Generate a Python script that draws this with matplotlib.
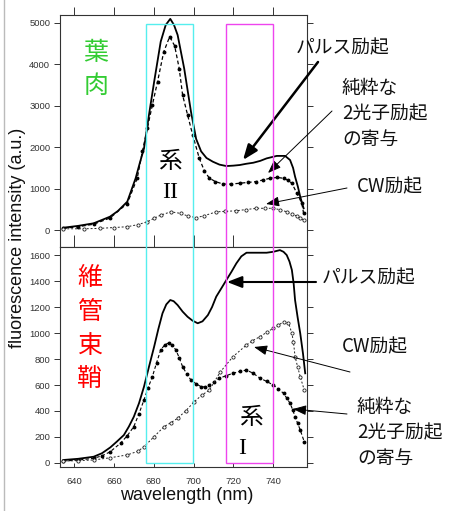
import matplotlib
matplotlib.use("Agg")
import matplotlib.pyplot as plt
from matplotlib.patches import Rectangle, FancyArrowPatch
import matplotlib.transforms as mtransforms

# ---------------- data ----------------
top_pulse_wl = [634.6, 642, 649.8, 658, 662, 666.7, 670.9, 673, 675.1, 677.6, 680.2, 683.5, 686,
                688.3, 690.2, 692, 695.3, 698.7, 701.3, 703.8, 706.5, 709.7, 713, 716.5, 720,
                723.2, 726.5, 730, 733.5, 736.7, 741.8, 746, 748.5, 750, 751, 752.4, 753.6, 755.3]
top_pulse = [56, 100, 162, 322, 460, 684, 1250, 1620, 1970, 2780, 3580, 4550, 4950,
             5100, 4950, 4710, 3900, 2860, 2200, 1900, 1740, 1650, 1580, 1545, 1555,
             1570, 1600, 1625, 1670, 1730, 1790, 1790, 1690, 1500, 1290, 1050, 805, 525]

top_two_wl = [634.6, 642, 649.8, 658, 666.7, 671.7, 674.3, 676.8, 679.3, 681.9, 685, 688, 690.5,
              692.8, 694.5, 697, 699.6, 702.9, 705.5, 708, 711, 714.8, 719, 723.2, 727.4, 731.6,
              735, 738.4, 742, 745.2, 747.5, 749.4, 751.9, 754.4, 755.3]
top_two = [40, 80, 140, 290, 640, 1250, 1900, 2460, 3020, 3580, 4300, 4670, 4450,
           3900, 3260, 2780, 2290, 1730, 1420, 1250, 1170, 1110, 1110, 1130, 1150, 1170,
           1210, 1250, 1270, 1250, 1200, 1130, 890, 645, 400]

top_cw_wl = [634.6, 645, 653, 660, 666.7, 672, 676.8, 680, 683.5, 688.6, 693.7, 697, 701.3, 705,
             711.4, 716, 721.5, 726.5, 731.6, 736, 740, 743.5, 746.8, 749.4, 751.9, 753.5, 755.3]
top_cw = [30, 30, 40, 60, 80, 130, 200, 280, 360, 440, 400, 340, 300, 340,
          440, 450, 465, 495, 525, 525, 525, 490, 440, 380, 340, 290, 240]

low_pulse_wl = [634.6, 642, 649.8, 654, 658.2, 661.5, 665, 667.5, 670, 672.6, 675.1, 677.6, 680.2,
                682.3, 684.4, 686.3, 688.3, 690, 692, 694.5, 697, 699.5, 702.1, 704.5, 707.2,
                709.3, 711.4, 714, 716.5, 719, 721.5, 724, 726.6, 731.6, 736.7, 740, 743.4,
                745.2, 746.8, 748.2, 749.4, 750.3, 751, 752.3, 753.6, 755, 756.1]
low_pulse = [23, 32, 48, 75, 120, 165, 215, 280, 356, 460, 587, 740, 895,
             1030, 1152, 1220, 1254, 1245, 1215, 1165, 1125, 1095, 1075, 1090, 1138,
             1200, 1280, 1345, 1408, 1470, 1536, 1590, 1618, 1618, 1618, 1625, 1638,
             1625, 1600, 1550, 1485, 1380, 1254, 1120, 998, 840, 690]

low_two_wl = [634.6, 642, 649.8, 654, 658, 663.3, 666.7, 670, 672.6, 675.1, 677.2, 679.3, 681.4,
              683.5, 685.6, 687.7, 689.4, 691.1, 692.8, 694.5, 696.6, 698.7, 701.2, 703.8, 705.8,
              708, 710.5, 713, 716.4, 719.8, 723.2, 726.6, 730, 733.4, 736.7, 740, 742.6, 745.2,
              746.8, 748.5, 749.8, 751, 752.3, 753.6, 755.6]
low_two = [15, 22, 36, 55, 85, 152, 210, 280, 380, 485, 580, 664, 770,
           870, 910, 925, 905, 870, 810, 741, 685, 638, 610, 587, 585,
           600, 625, 652, 672, 690, 705, 715, 690, 652, 628, 600, 570, 536,
           500, 459, 410, 356, 305, 254, 164]

low_cw_wl = [634.6, 642, 649.8, 658, 666.7, 672, 675.1, 680, 685.2, 688.6, 692, 696, 700.4, 704,
             708, 713.4, 719.8, 726.6, 729.5, 733.4, 736.7, 740, 742.6, 745.2, 747.7, 749.4,
             750.2, 751, 752.3, 753.6, 755.6]
low_cw = [15, 18, 23, 40, 62, 90, 125, 200, 280, 310, 344, 400, 472, 520,
          562, 700, 818, 908, 940, 972, 1005, 1036, 1060, 1087, 1079, 998,
          930, 818, 740, 664, 562]

x_ticks = [640, 660, 680, 700, 720, 740]
top_yticks = [0, 1000, 2000, 3000, 4000, 5000]
low_yticks = [0, 200, 400, 600, 800, 1000, 1200, 1400, 1600]
box_ii = (676, 699.6)
box_i = (716.5, 739.7)

# ---------------- figure ----------------
W, H = 452, 511
fig = plt.figure(figsize=(W / 100, H / 100), dpi=100)
JP = ['Noto Sans CJK JP', 'DejaVu Sans']

def fx(px):
    return px / W

def fy(py):
    return 1 - py / H

ax1 = fig.add_axes([fx(60), fy(247), fx(307) - fx(60), fy(15) - fy(247)])
ax2 = fig.add_axes([fx(60), fy(467), fx(307) - fx(60), fy(247) - fy(467)])

for ax in (ax1, ax2):
    ax.set_xlim(632.9, 757)
    ax.set_xticks(x_ticks)
    for s in ax.spines.values():
        s.set_linewidth(0.8)
        s.set_color('#333333')
    ax.tick_params(axis='y', which='both', direction='out', length=4, width=0.7,
                   labelsize=6.8, colors='#333333', pad=3, right=True)
    ax.tick_params(axis='y', which='both', labelright=False)

ax1.set_ylim(-410, 5193)
ax1.set_yticks(top_yticks)
ax2.set_ylim(-31, 1662)
ax2.set_yticks(low_yticks)

for lab in ax1.get_yticklabels() + ax2.get_yticklabels() + ax2.get_xticklabels():
    lab.set_family('Liberation Sans')

ax1.tick_params(axis='x', direction='in', length=9, width=0.7, labelbottom=False, colors='#333333')
sec = ax1.secondary_xaxis('top')
sec.set_xticks(x_ticks)
sec.tick_params(axis='x', direction='out', length=6, width=0.7, labeltop=False, colors='#333333')
sec.spines['top'].set_visible(False)

ax2.tick_params(axis='x', direction='in', length=3, width=0.7, labelsize=6.8,
                colors='#333333', pad=7)

# curves
ax1.plot(top_pulse_wl, top_pulse, '-', color='black', lw=1.3)
ax1.plot(top_two_wl, top_two, '--', color='black', lw=0.9, marker='o', ms=1.8, dashes=(3, 2))
ax1.plot(top_cw_wl, top_cw, '--', color='#222222', lw=0.7, marker='o', ms=2.3,
         mfc='white', mec='#222222', mew=0.6, dashes=(2, 2))

ax2.plot(low_pulse_wl, low_pulse, '-', color='black', lw=1.3)
ax2.plot(low_two_wl, low_two, '--', color='black', lw=0.8, marker='o', ms=1.8, dashes=(3, 2))
ax2.plot(low_cw_wl, low_cw, '--', color='#222222', lw=0.7, marker='o', ms=2.3,
         mfc='white', mec='#222222', mew=0.6, dashes=(2, 2))

# boxes spanning both panels
trans = mtransforms.blended_transform_factory(ax2.transData, fig.transFigure)
for (x0, x1), col in ((box_ii, '#55eeee'), (box_i, '#ee44ee')):
    r = Rectangle((x0, fy(463)), x1 - x0, fy(24) - fy(463), transform=trans,
                  fill=False, ec=col, lw=1.0, clip_on=False, zorder=5)
    fig.add_artist(r)

# axis labels
fig.text(fx(18), fy(238), 'fluorescence intensity (a.u.)', rotation=90, ha='center', va='center',
         fontsize=13, family='Liberation Sans', color='#111111')
fig.text(fx(187), fy(495), 'wavelength (nm)', ha='center', va='center',
         fontsize=13, family='Liberation Sans', color='#111111')

# left border line of the image
fig.add_artist(plt.Line2D([fx(4), fx(4)], [0, 1], transform=fig.transFigure, color='#bbbbbb', lw=1))

# region labels
for ch, y in zip('葉肉', (53, 86)):
    fig.text(fx(96), fy(y), ch, ha='center', va='center', fontsize=18, family=JP, color='#33cc33')
for ch, y in zip('維管束鞘', (278, 312, 346, 379)):
    fig.text(fx(90), fy(y), ch, ha='center', va='center', fontsize=18, family=JP, color='#ff0000')

fig.text(fx(170), fy(162), '系', ha='center', va='center', fontsize=17, family=JP, color='black')
fig.text(fx(170), fy(192), 'II', ha='center', va='center', fontsize=17, family='Liberation Serif', color='black')
fig.text(fx(251), fy(418), '系', ha='center', va='center', fontsize=17, family=JP, color='black')
fig.text(fx(242), fy(448), 'I', ha='center', va='center', fontsize=17, family='Liberation Serif', color='black')

# annotations
def note(text, xy_text):
    fig.text(fx(xy_text[0]), fy(xy_text[1]), text, ha='left', va='center', fontsize=13.5,
             family=JP, color='#111111', linespacing=1.3)

def arrow(p0, p1, lw, hw, hl):
    fig.add_artist(FancyArrowPatch(
        (fx(p0[0]), fy(p0[1])), (fx(p1[0]), fy(p1[1])), transform=fig.transFigure,
        arrowstyle=f'-|>,head_width={hw},head_length={hl}', color='black', lw=lw,
        shrinkA=0, shrinkB=0, mutation_scale=10))

note('パルス励起', (296, 48))
arrow((318, 62), (243, 160), 1.8, 0.35, 0.9)
note('純粋な\n2光子励起\nの寄与', (342, 114))
arrow((332, 111), (268, 173), 0.7, 0.3, 0.8)
note('CW励起', (357, 187))
arrow((347, 188), (266, 204), 0.7, 0.3, 0.8)

note('パルス励起', (322, 278))
arrow((316, 282), (227, 282), 1.5, 0.35, 0.9)
note('CW励起', (342, 347))
arrow((350, 372), (254, 347), 0.7, 0.3, 0.8)
note('純粋な\n2光子励起\nの寄与', (357, 433))
arrow((347, 414), (293, 409), 0.7, 0.3, 0.8)

fig.savefig('out.png', dpi=100)
